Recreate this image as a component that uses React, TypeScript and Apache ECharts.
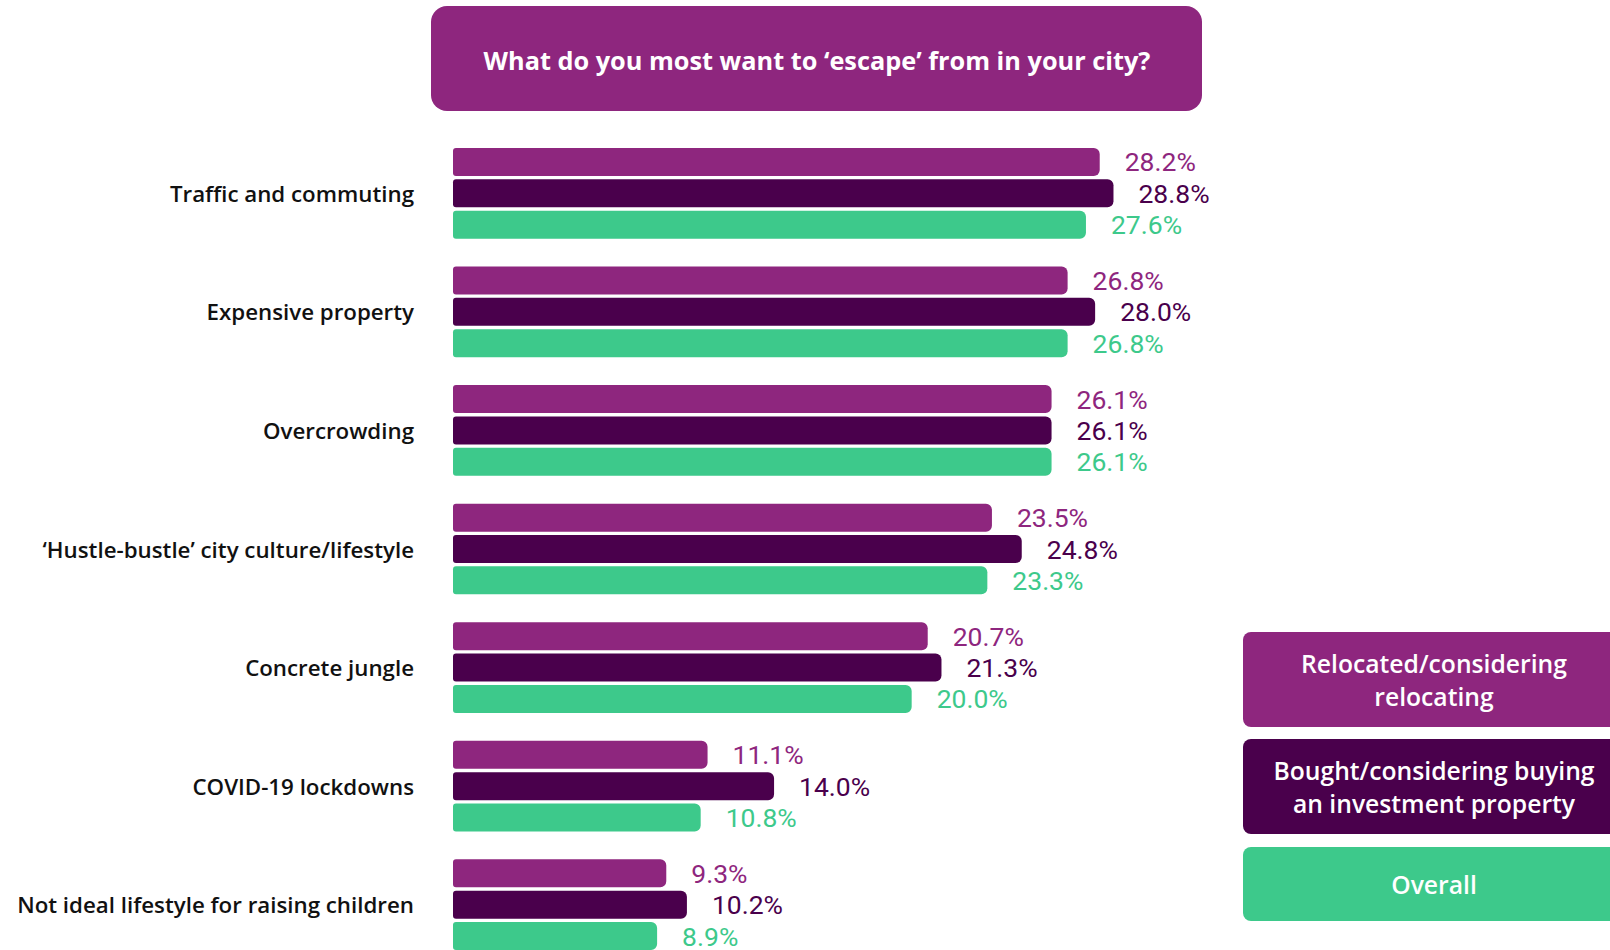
import React, { useEffect, useRef } from "react";
import * as echarts from "echarts";

const categories = [
  "Traffic and commuting",
  "Expensive property",
  "Overcrowding",
  "‘Hustle-bustle’ city culture/lifestyle",
  "Concrete jungle",
  "COVID-19 lockdowns",
  "Not ideal lifestyle for raising children",
];
const seriesNames = [
  "Relocated/considering\nrelocating",
  "Bought/considering buying\nan investment property",
  "Overall",
];
const relocated = [28.2, 26.8, 26.1, 23.5, 20.7, 11.1, 9.3];
const investment = [28.8, 28.0, 26.1, 24.8, 21.3, 14.0, 10.2];
const overall = [27.6, 26.8, 26.1, 23.3, 20.0, 10.8, 8.9];
const title = "What do you most want to ‘escape’ from in your city?";

const colors = ["#8E267E", "#4A004C", "#3DC98B"];
const FONT = "'Open Sans', Roboto, sans-serif";
const NUM_FONT = "Roboto, 'Open Sans', sans-serif";

export default function App() {
  const ref = useRef<HTMLDivElement>(null);
  useEffect(() => {
    if (!ref.current) return;
    document.body.style.overflow = "hidden";
    const chart = echarts.init(ref.current, null, { renderer: "svg" });
    const dataSets = [relocated, investment, overall];
    const legendTops = [632, 739, 847];
    const legendHeights = [95, 95, 74];
    const graphics: any[] = [
      {
        type: "rect",
        shape: { x: 431, y: 6, width: 771, height: 105, r: 16 },
        style: { fill: colors[0] },
      },
      {
        type: "text",
        x: 817,
        y: 60,
        style: {
          text: title,
          fill: "#fff",
          font: `bold 25.3px ${FONT}`,
          textAlign: "center",
          textVerticalAlign: "middle",
        },
      },
    ];
    seriesNames.forEach((n, i) => {
      graphics.push({
        type: "rect",
        shape: { x: 1243, y: legendTops[i], width: 400, height: legendHeights[i], r: 8 },
        style: { fill: colors[i] },
      });
      graphics.push({
        type: "text",
        x: 1434,
        y: legendTops[i] + legendHeights[i] / 2,
        style: {
          text: n,
          fill: "#fff",
          font: `600 24.7px ${FONT}`,
          lineHeight: 33,
          textAlign: "center",
          textVerticalAlign: "middle",
        },
      });
    });
    chart.setOption({
      animation: false,
      grid: { left: 453, width: 688, top: 134, height: 830, containLabel: false },
      xAxis: { type: "value", min: 0, max: 30, show: false },
      yAxis: {
        type: "category",
        data: categories,
        inverse: true,
        axisLine: { show: false },
        axisTick: { show: false },
        axisLabel: {
          margin: 39,
          fontSize: 22.3,
          fontWeight: 600,
          fontFamily: FONT,
          color: "#111",
        },
      },
      series: dataSets.map((d, i) => ({
        type: "bar",
        name: seriesNames[i],
        data: d,
        barWidth: 28,
        barGap: "12%",
        itemStyle: { color: colors[i], borderRadius: [3, 6, 6, 3] },
        label: {
          show: true,
          position: "right",
          distance: 25,
          color: colors[i],
          fontSize: 26.5,
          fontFamily: NUM_FONT,
          formatter: (p: any) => p.value.toFixed(1) + "%",
        },
      })),
      graphic: graphics,
    });
    return () => chart.dispose();
  }, []);
  return (
    <div
      ref={ref}
      style={{ position: "fixed", left: 0, top: 0, width: 1610, height: 990, background: "#fff" }}
    />
  );
}
